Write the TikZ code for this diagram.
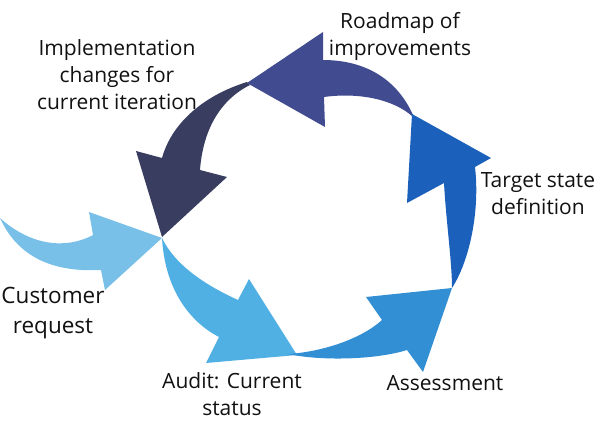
\documentclass[tikz,border=0pt]{standalone}
\usepackage{fontspec}
\setmainfont{Open Sans}
\definecolor{cCust}{HTML}{79C0E8}
\definecolor{cAudit}{HTML}{50B0E3}
\definecolor{cAssess}{HTML}{338FD4}
\definecolor{cTarget}{HTML}{1B60BA}
\definecolor{cRoad}{HTML}{414B8F}
\definecolor{cImpl}{HTML}{393D5F}
\definecolor{cText}{HTML}{111111}
\tikzset{
  lbl/.style={font=\fontsize{21}{27}\selectfont, text=cText, align=center, inner sep=0pt, anchor=base},
  biglbl/.style={lbl, font=\fontsize{22.5}{30}\selectfont}
}
\begin{document}
\begin{tikzpicture}[x=1pt,y=-1pt]
\useasboundingbox (0,0) rectangle (600,429);
% implementation
\fill[cImpl] (247,82) .. controls (205,95) and (172,122) .. (162,158) -- (136,151) -- (162,237) -- (227,177) -- (200,170) .. controls (203,130) and (220,100) .. (250,85) -- cycle;
% customer request
\fill[cCust] (0,218) .. controls (30,245) and (65,250) .. (93,235) -- (89,212) -- (162,238) -- (105,290) -- (101,270) .. controls (60,272) and (20,262) .. (0,218) -- cycle;
% audit
\fill[cAudit] (162,238) .. controls (165,290) and (190,322) .. (219,337) -- (206,363) -- (297,355) -- (249,279) -- (238,300) .. controls (205,285) and (175,265) .. (162,238) -- cycle;
% assessment
\fill[cAssess] (288,354) .. controls (320,361) and (375,360) .. (407,350) -- (423,372) -- (452,288) -- (366,297) -- (382,320) .. controls (360,340) and (320,352) .. (288,354) -- cycle;
% roadmap
\fill[cRoad] (413,115) .. controls (395,75) and (360,60) .. (323,60) -- (323,32) -- (247,83) -- (325,127) -- (324,97) .. controls (360,92) and (395,100) .. (413,117) -- cycle;
% target
\fill[cTarget] (452,288) .. controls (470,260) and (480,210) .. (475,167) -- (491,158) -- (412,114) -- (407,203) -- (444,183) .. controls (446,220) and (452,262) .. (452,288) -- cycle;
% labels (anchor = baseline of last line)
\node[lbl] (impl) at (117,109) {Implementation\\changes for\\current iteration};
\node[lbl] (road) at (400,55) {Roadmap of\\improvements};
\node[lbl] (target) at (538,214) {Target state\\definition};
\node[lbl] (assess) at (445,390) {Assessment};
\node[lbl] (audit) at (232,415) {Audit: Current\\status};
\node[biglbl] (cust) at (53,333) {Customer\\request};
\end{tikzpicture}
\end{document}
